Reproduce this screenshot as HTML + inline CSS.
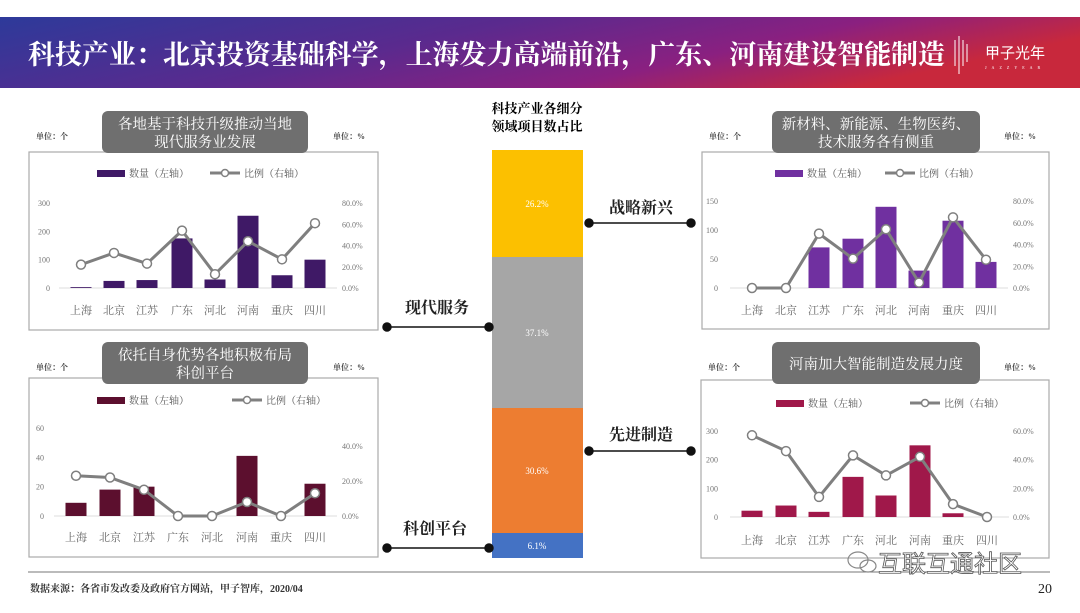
<!DOCTYPE html>
<html><head><meta charset="utf-8"><style>
html,body{margin:0;padding:0;background:#fff;}
body{width:1080px;height:608px;position:relative;overflow:hidden;font-family:"Liberation Serif","Noto Serif CJK SC",serif;}
</style></head><body>
<svg id="s" width="1080" height="608" viewBox="0 0 1080 608" xmlns="http://www.w3.org/2000/svg" font-family="Liberation Serif, Noto Serif CJK SC, serif">
<defs>
<linearGradient id="hg" x1="0" y1="0" x2="1" y2="0.3">
<stop offset="0" stop-color="#2d3a9a"/><stop offset="0.45" stop-color="#5a2a8e"/><stop offset="0.75" stop-color="#8a2080"/><stop offset="1" stop-color="#c8283c"/>
</linearGradient>
</defs>
<rect x="0" y="17" width="1080" height="71" fill="url(#hg)"/>
<text x="28" y="64" fill="#fff" font-size="27" font-weight="bold" font-family="Noto Serif CJK SC, serif" textLength="917" lengthAdjust="spacingAndGlyphs">科技产业：北京投资基础科学，上海发力高端前沿，广东、河南建设智能制造</text>
<g stroke="#fff" stroke-width="1"><line x1="955" y1="40" x2="955" y2="66"/><line x1="959" y1="36" x2="959" y2="74"/><line x1="963" y1="40" x2="963" y2="66"/><line x1="967" y1="44" x2="967" y2="62"/></g>
<text x="985" y="58" fill="#fff" font-size="15" font-family="Noto Sans CJK SC, sans-serif">甲子光年</text>
<text x="985" y="69" fill="#fff" font-size="4" letter-spacing="5">JAZZYEAR</text>

<g id="charts"></g>

<text x="537" y="113" text-anchor="middle" font-size="13" font-weight="bold">科技产业各细分</text>
<text x="537" y="131" text-anchor="middle" font-size="13" font-weight="bold">领域项目数占比</text>
<rect x="492" y="150" width="91" height="107" fill="#fcc000"/>
<rect x="492" y="257" width="91" height="151" fill="#a6a6a6"/>
<rect x="492" y="408" width="91" height="125" fill="#ed7d31"/>
<rect x="492" y="533" width="91" height="25" fill="#4472c4"/>
<g fill="#fff" font-size="9" text-anchor="middle" font-family="Liberation Serif, serif">
<text x="537" y="207">26.2%</text><text x="537" y="336">37.1%</text><text x="537" y="474">30.6%</text><text x="537" y="549">6.1%</text></g>
<g font-size="16" font-weight="bold" font-family="Noto Serif CJK SC, serif" fill="#222">
<text x="609" y="213">战略新兴</text><text x="405" y="313">现代服务</text><text x="609" y="440">先进制造</text><text x="403" y="534">科创平台</text></g>
<g stroke="#111" stroke-width="1.5" fill="#111">
<line x1="589" y1="223" x2="691" y2="223"/><circle cx="589" cy="223" r="4"/><circle cx="691" cy="223" r="4"/>
<line x1="387" y1="327" x2="489" y2="327"/><circle cx="387" cy="327" r="4"/><circle cx="489" cy="327" r="4"/>
<line x1="589" y1="451" x2="691" y2="451"/><circle cx="589" cy="451" r="4"/><circle cx="691" cy="451" r="4"/>
<line x1="387" y1="548" x2="489" y2="548"/><circle cx="387" cy="548" r="4"/><circle cx="489" cy="548" r="4"/>
</g>

<line x1="28" y1="572" x2="1050" y2="572" stroke="#777" stroke-width="1"/>
<text x="30" y="592" font-size="10" font-weight="bold" fill="#333">数据来源：各省市发改委及政府官方网站，甲子智库，2020/04</text>
<text x="1052" y="593" font-size="14" text-anchor="end" fill="#222">20</text>
<g fill="none" stroke="#888" stroke-width="1.2"><ellipse cx="858" cy="560" rx="10" ry="8"/><ellipse cx="868" cy="566" rx="8" ry="6"/></g>
<text x="878" y="572" font-size="24" fill="#fff" stroke="#555" stroke-width="0.8" font-family="Noto Sans CJK SC, sans-serif">互联互通社区</text>
</svg>
<script>
var cats=["上海","北京","江苏","广东","河北","河南","重庆","四川"];
var charts=[
{box:[29,152,349,178],pill:[102,111,206,42],t:["各地基于科技升级推动当地","现代服务业发展"],ly:173,lg:[97,210],
 xs:[81,114,147,182,215,248,282,315],y0:288,yt:203,lmax:300,lt:[0,100,200,300],rmax:80,rt:[0,20,40,60,80],ry:203,
 bars:[3,25,28,175,30,255,45,100],line:[22,33,23,54,13,44,27,61],col:"#3f1966",lx:50,rx:342,laby:314,bw:21},
{box:[29,378,349,179],pill:[102,342,206,42],t:["依托自身优势各地积极布局","科创平台"],ly:400,lg:[97,232],
 xs:[76,110,144,178,212,247,281,315],y0:516,yt:428,lmax:60,lt:[0,20,40,60],rmax:40,rt:[0,20,40],ry:446,
 bars:[9,18,20,0,0,41,0,22],line:[23,22,15,0,0,8,0,13],col:"#5c0f2e",lx:44,rx:342,laby:541,bw:21},
{box:[702,152,347,177],pill:[772,111,208,42],t:["新材料、新能源、生物医药、","技术服务各有侧重"],ly:173,lg:[775,885],
 xs:[752,786,819,853,886,919,953,986],y0:288,yt:201,lmax:150,lt:[0,50,100,150],rmax:80,rt:[0,20,40,60,80],ry:201,
 bars:[0,0,70,85,140,30,116,45],line:[0,0,50,27,54,5,65,26],col:"#7030a0",lx:718,rx:1013,laby:314,bw:21},
{box:[701,380,348,178],pill:[772,342,208,42],t:["河南加大智能制造发展力度"],ly:403,lg:[776,910],
 xs:[752,786,819,853,886,920,953,987],y0:517,yt:431,lmax:300,lt:[0,100,200,300],rmax:60,rt:[0,20,40,60],ry:431,
 bars:[22,40,18,140,75,250,13,0],line:[57,46,14,43,29,42,9,0],col:"#a0184a",lx:718,rx:1013,laby:544,bw:21}
];
var h="";
var SF='font-family="Noto Serif CJK SC, serif"';
charts.forEach(function(c){
 var b=c.box;
 h+='<rect x="'+b[0]+'" y="'+b[1]+'" width="'+b[2]+'" height="'+b[3]+'" fill="#fff" stroke="#aaa" stroke-width="1.2"/>';
 h+='<text x="'+(b[0]+7)+'" y="'+(c.pill[1]+28)+'" font-size="8" font-weight="bold" fill="#444">单位：个</text>';
 h+='<text x="'+(b[0]+b[2]-45)+'" y="'+(c.pill[1]+28)+'" font-size="8" font-weight="bold" fill="#444">单位：%</text>';
 var p=c.pill;
 h+='<rect x="'+p[0]+'" y="'+p[1]+'" width="'+p[2]+'" height="'+p[3]+'" rx="6" fill="#6f6f6f"/>';
 var cx=p[0]+p[2]/2;
 if(c.t.length==2){h+='<text '+SF+' x="'+cx+'" y="'+(p[1]+18)+'" text-anchor="middle" font-size="14.5" fill="#fff">'+c.t[0]+'</text><text '+SF+' x="'+cx+'" y="'+(p[1]+36)+'" text-anchor="middle" font-size="14.5" fill="#fff">'+c.t[1]+'</text>';}
 else h+='<text '+SF+' x="'+cx+'" y="'+(p[1]+27)+'" text-anchor="middle" font-size="14.5" fill="#fff">'+c.t[0]+'</text>';
 var a=c.lg[0],l=c.lg[1],ly=c.ly;
 h+='<rect x="'+a+'" y="'+(ly-3)+'" width="28" height="7" fill="'+c.col+'"/><text x="'+(a+32)+'" y="'+(ly+4)+'" font-size="10" fill="#555">数量（左轴）</text>';
 h+='<line x1="'+l+'" y1="'+ly+'" x2="'+(l+30)+'" y2="'+ly+'" stroke="#808080" stroke-width="3"/><circle cx="'+(l+15)+'" cy="'+ly+'" r="3.5" fill="#fff" stroke="#808080" stroke-width="1.5"/><text x="'+(l+34)+'" y="'+(ly+4)+'" font-size="10" fill="#555">比例（右轴）</text>';
 var y0=c.y0,yt=c.yt;
 h+='<line x1="'+(c.xs[0]-22)+'" y1="'+y0+'" x2="'+(c.xs[7]+22)+'" y2="'+y0+'" stroke="#ddd" stroke-width="1"/>';
 c.lt.forEach(function(v){var y=y0-(y0-yt)*v/c.lmax;h+='<text x="'+c.lx+'" y="'+(y+3)+'" text-anchor="end" font-size="8" fill="#777">'+v+'</text>';});
 c.rt.forEach(function(v){var y=y0-(y0-c.ry)*v/c.rt[c.rt.length-1];h+='<text x="'+c.rx+'" y="'+(y+3)+'" font-size="8" fill="#777">'+v.toFixed(1)+'%</text>';});
 var pts=[];
 c.xs.forEach(function(x,i){
  var bh=(y0-yt)*c.bars[i]/c.lmax; if(bh>0)h+='<rect x="'+(x-c.bw/2)+'" y="'+(y0-bh)+'" width="'+c.bw+'" height="'+bh+'" fill="'+c.col+'"/>';
  pts.push([x,y0-(y0-c.ry)*c.line[i]/c.rt[c.rt.length-1]]);
  h+='<text x="'+x+'" y="'+c.laby+'" text-anchor="middle" font-size="11" fill="#666">'+cats[i]+'</text>';
 });
 h+='<polyline points="'+pts.map(function(q){return q.join(",")}).join(" ")+'" fill="none" stroke="#7f7f7f" stroke-width="3" stroke-linejoin="round"/>';
 pts.forEach(function(q){h+='<circle cx="'+q[0]+'" cy="'+q[1]+'" r="4.5" fill="#fff" stroke="#7f7f7f" stroke-width="1.5"/>';});
});
document.getElementById("charts").innerHTML=h;
</script>
</body></html>
